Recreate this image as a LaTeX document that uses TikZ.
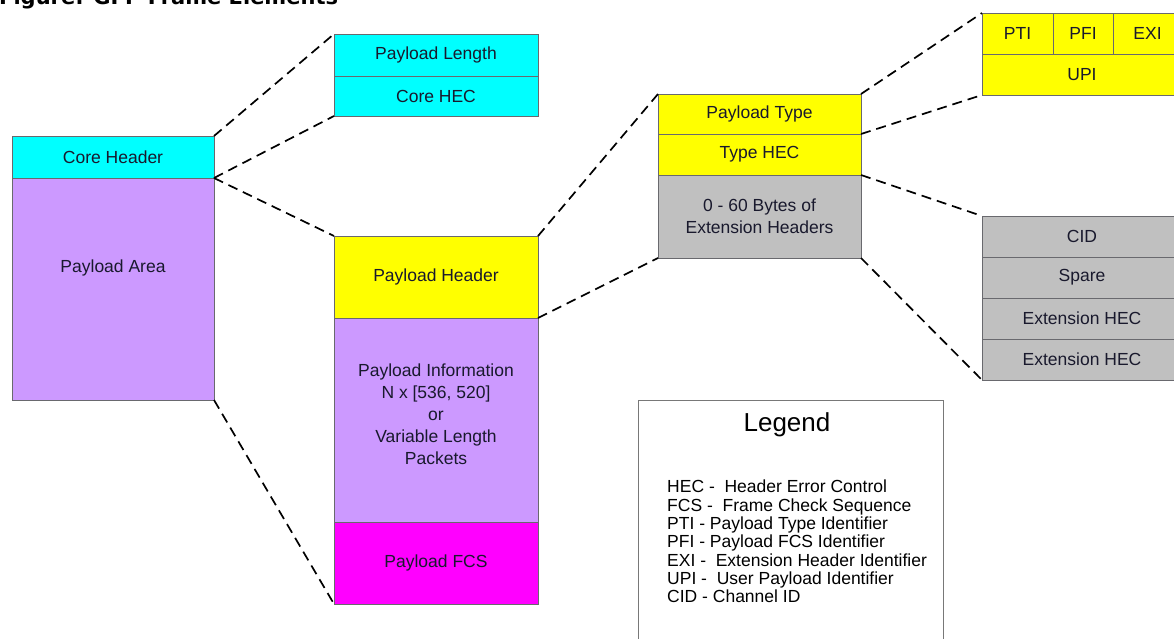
\documentclass[tikz,border=0pt]{standalone}
\usepackage{fontspec}
\setmainfont{Liberation Sans}
\newfontfamily\titlefont{DejaVu Sans}
\definecolor{cyanfill}{RGB}{0,255,255}
\definecolor{lilac}{RGB}{204,153,255}
\definecolor{yel}{RGB}{255,255,0}
\definecolor{mag}{RGB}{255,0,255}
\definecolor{grayfill}{RGB}{192,192,192}
\definecolor{edge}{RGB}{105,105,110}
\definecolor{ink}{RGB}{25,25,45}
\definecolor{legendedge}{RGB}{120,120,120}

\begin{document}
\begin{tikzpicture}[x=1pt,y=-1pt,
  cell/.style n args={2}{draw=edge, line width=0.8pt, anchor=north west,
    inner sep=0pt, outer sep=0pt, align=center, text=ink,
    font=\fontsize{17.5}{22}\selectfont, minimum width=#1, minimum height=#2},
  label text/.style={inner sep=0pt, align=center, text=ink,
    font=\fontsize{17.5}{22}\selectfont},
  conn/.style={draw=black, line width=1.7pt, dash pattern=on 10pt off 6pt},
]
\path[use as bounding box] (0,0) rectangle (1174,639);
\clip (0,0) rectangle (1174,639);

% heading
\node[anchor=base west, inner sep=0pt, text=black,
  font=\titlefont\bfseries\fontsize{21}{24}\selectfont] (title) at (-1,5)
  {Figure: GFP Frame Elements};

% core frame
\node[cell={202}{42}, fill=cyanfill] (corehdr) at (12,136) {Core Header};
\node[cell={202}{222}, fill=lilac] (payarea) at (12,178) {};
\node[label text] (payareatxt) at (113,268) {Payload Area};

% core header fields
\node[cell={204}{42}, fill=cyanfill] (plen) at (334,34) {Payload Length};
\node[cell={204}{40}, fill=cyanfill] (chec) at (334,76) {Core HEC};

% payload area fields
\node[cell={204}{82}, fill=yel] (phdr) at (334,236) {Payload Header};
\node[cell={204}{204}, fill=lilac] (pinfo) at (334,318) {};
\node[label text] (pinfotxt) at (436,414)
  {Payload Information\\N x [536, 520]\\or\\Variable Length\\Packets};
\node[cell={204}{82}, fill=mag] (pfcs) at (334,522) {Payload FCS};

% payload header fields
\node[cell={203}{40}, fill=yel] (ptype) at (658,94) {Payload Type};
\node[cell={203}{41}, fill=yel] (thec) at (658,134) {Type HEC};
\node[cell={203}{83}, fill=grayfill] (exth) at (658,175)
  {0 - 60 Bytes of\\Extension Headers};

% payload type fields
\node[cell={71}{41}, fill=yel] (pti) at (982,13) {PTI};
\node[cell={60}{41}, fill=yel] (pfi) at (1053,13) {PFI};
\node[cell={69}{41}, fill=yel] (exi) at (1113,13) {EXI};
\node[cell={200}{41}, fill=yel] (upi) at (982,54) {UPI};

% extension header fields
\node[cell={200}{41}, fill=grayfill] (cid) at (982,216) {CID};
\node[cell={200}{41}, fill=grayfill] (spare) at (982,257) {Spare};
\node[cell={200}{41}, fill=grayfill] (ehec1) at (982,298) {Extension HEC};
\node[cell={200}{41}, fill=grayfill] (ehec2) at (982,339) {Extension HEC};

% expansion lines
\draw[conn] (corehdr.north east) -- (plen.north west);
\draw[conn] (corehdr.south east) -- (chec.south west);
\draw[conn] (payarea.north east) -- (phdr.north west);
\draw[conn] (payarea.south east) -- (pfcs.south west);
\draw[conn] (phdr.north east) -- (ptype.north west);
\draw[conn] (phdr.south east) -- (exth.south west);
\draw[conn] (ptype.north east) -- (pti.north west);
\draw[conn] (ptype.south east) -- (upi.south west);
\draw[conn] (thec.south east) -- (cid.north west);
\draw[conn] (exth.south east) -- (ehec2.south west);

% legend
\node[draw=legendedge, line width=1.2pt, fill=white, anchor=north west,
  inner sep=0pt, minimum width=305, minimum height=270] (legend) at (638,400) {};
\node[inner sep=0pt, text=black, font=\fontsize{26}{30}\selectfont]
  (legendtitle) at (787,425) {Legend};
\node[anchor=north west, inner sep=0pt, align=left, text=black,
  font=\fontsize{17.5}{18.3}\selectfont] (legendtxt) at (667,480)
  {HEC - \ Header Error Control\\
   FCS - \ Frame Check Sequence\\
   PTI - Payload Type Identifier\\
   PFI - Payload FCS Identifier\\
   EXI - \ Extension Header Identifier\\
   UPI - \ User Payload Identifier\\
   CID - Channel ID};
\end{tikzpicture}
\end{document}
